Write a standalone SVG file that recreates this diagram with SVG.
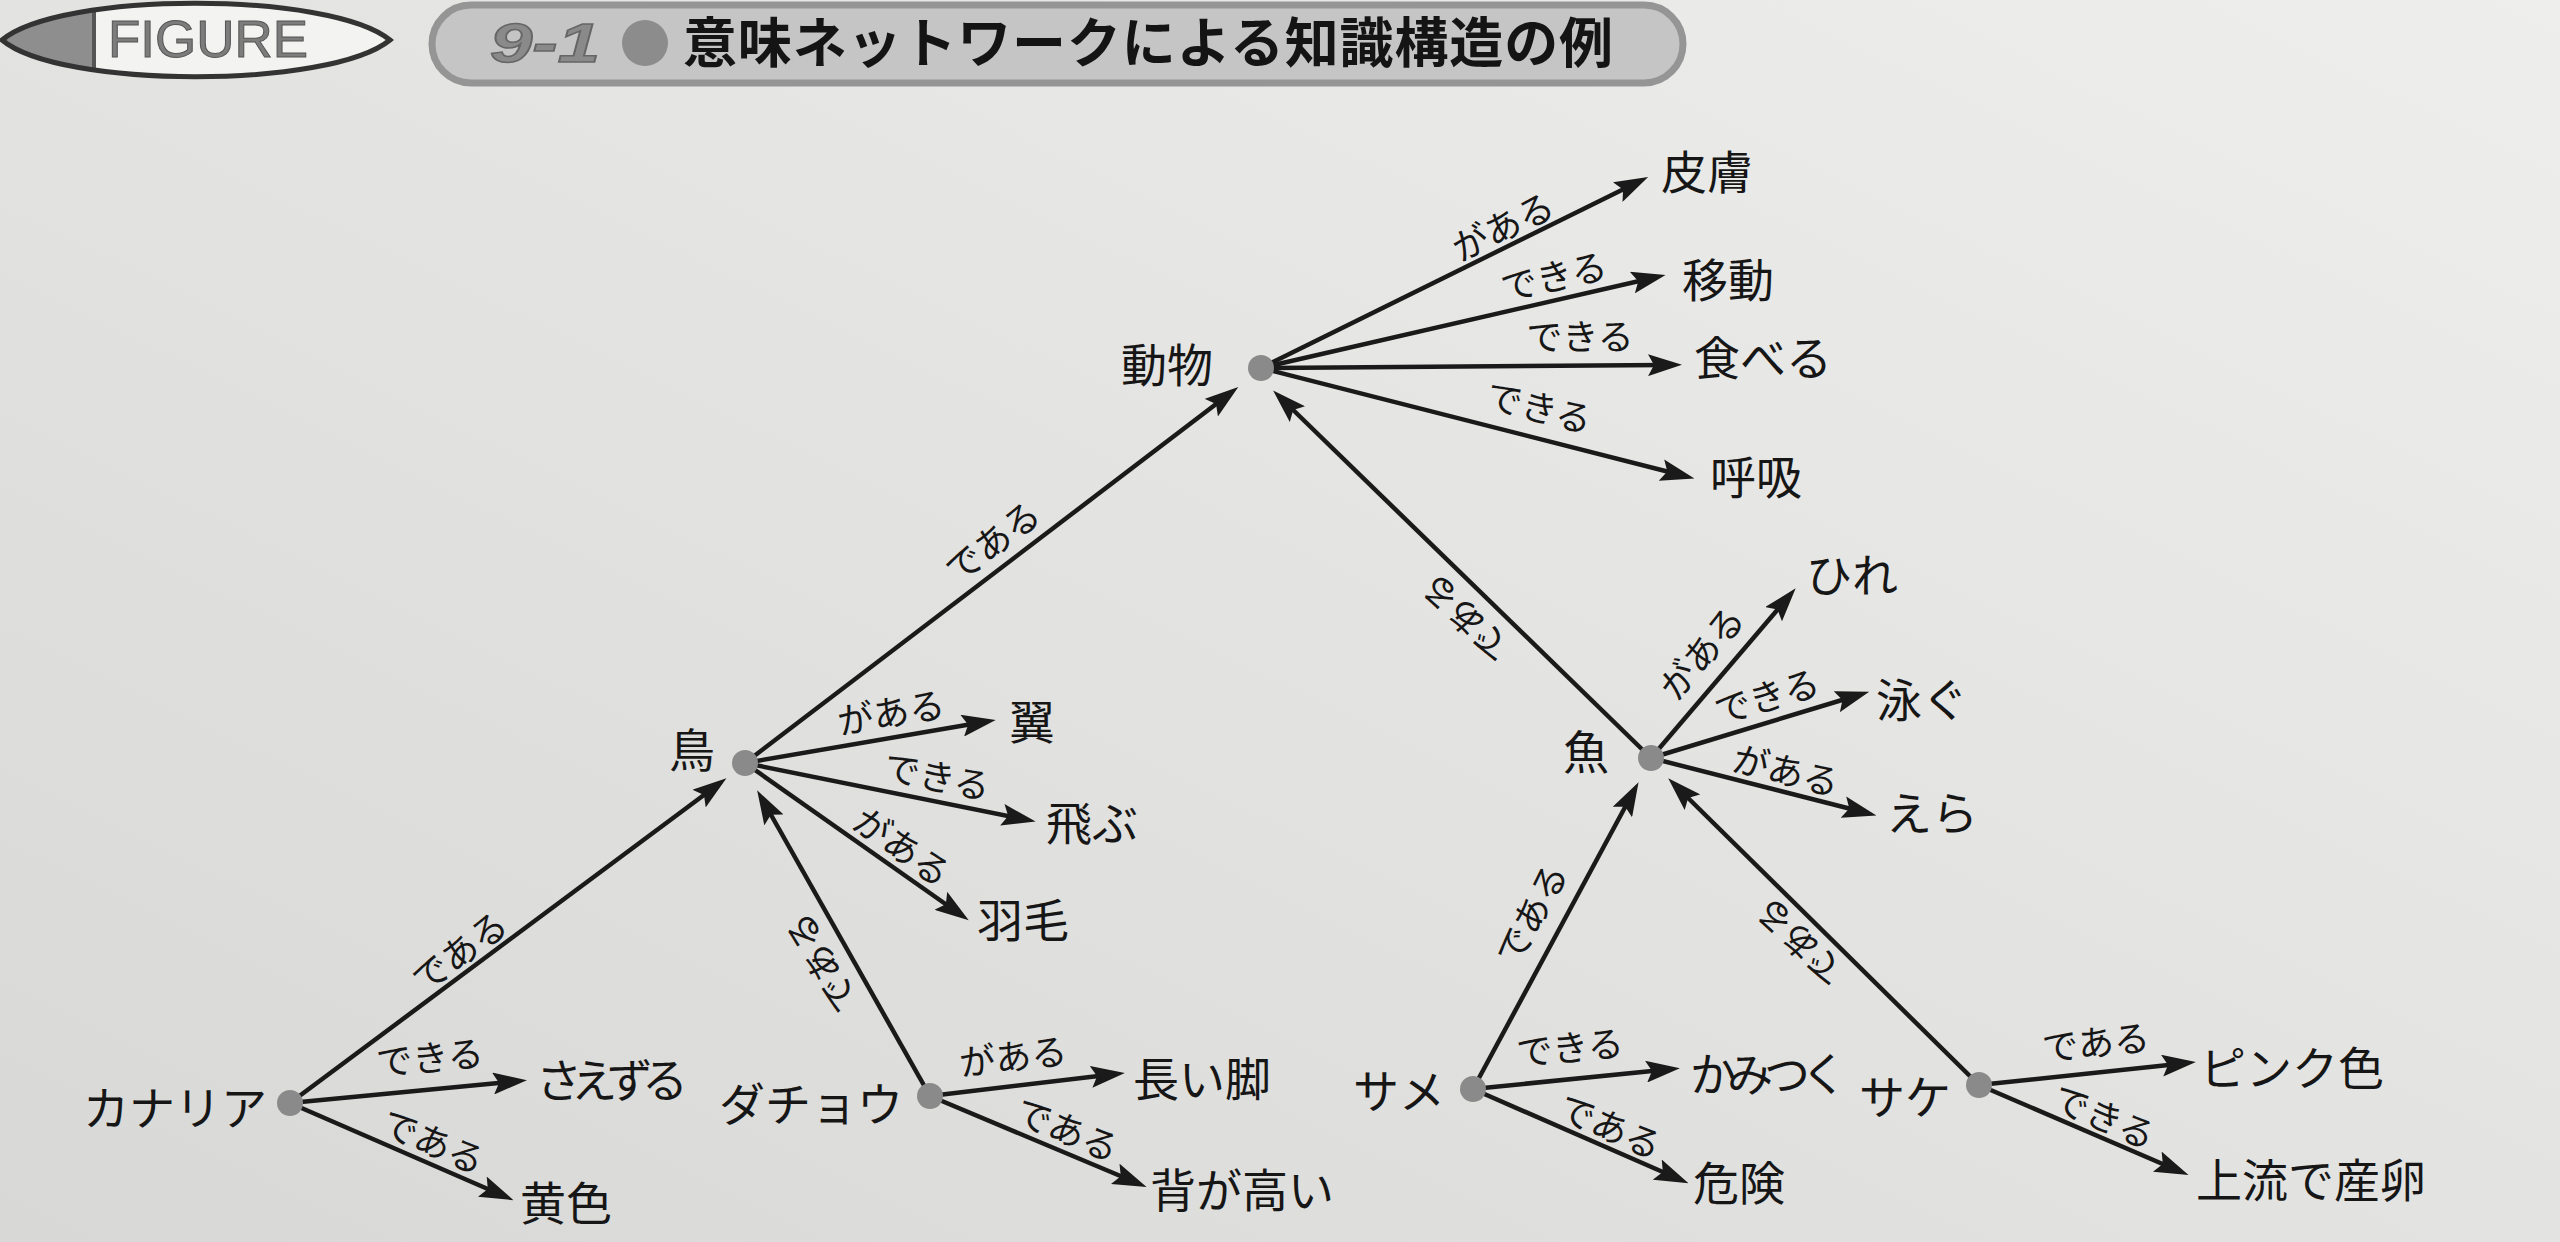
<svg xmlns="http://www.w3.org/2000/svg" width="2560" height="1242" viewBox="0 0 2560 1242">
<defs>
<linearGradient id="bg" x1="0" y1="1" x2="1" y2="0">
<stop offset="0" stop-color="#d8d8d6"/>
<stop offset="1" stop-color="#eeeeec"/>
</linearGradient>
<marker id="ah" markerUnits="userSpaceOnUse" markerWidth="34" markerHeight="22" refX="16" refY="11" orient="auto" viewBox="0 0 34 22">
<path d="M0,0 L34,11 L0,22 L6,11 Z" fill="#1a1a1a"/>
</marker>
<clipPath id="lens"><path d="M2,40 C60,-9 330,-9 390,40 C330,89 60,89 2,40 Z"/></clipPath>
</defs>
<style>
.n{font-family:"Noto Sans CJK JP","Noto Sans",sans-serif;font-size:46px;fill:#161616}
.r{text-anchor:end}
.l{font-family:"Noto Sans CJK JP",sans-serif;font-size:36px;fill:#161616;text-anchor:middle}
.e{stroke:#1a1a1a;stroke-width:4.5;fill:none;marker-end:url(#ah)}
.dot{fill:#8a8a8a}
</style>
<rect width="2560" height="1242" fill="url(#bg)"/>

<g id="header">
<g clip-path="url(#lens)">
<rect x="0" y="0" width="400" height="90" fill="#f3f3f1"/>
<rect x="0" y="0" width="94" height="90" fill="#8e8e8e"/>
<line x1="94" y1="0" x2="94" y2="90" stroke="#555" stroke-width="4"/>
</g>
<path d="M2,40 C60,-9 330,-9 390,40 C330,89 60,89 2,40 Z" fill="none" stroke="#333" stroke-width="5"/>
<text x="108" y="57" font-family="Liberation Sans, Arial, sans-serif" font-size="52" fill="#7c7c7c" stroke="#555" stroke-width="1" textLength="200" lengthAdjust="spacingAndGlyphs">FIGURE</text>
<rect x="432" y="5" width="1251" height="78" rx="39" fill="#c5c5c5" stroke="#959595" stroke-width="7"/>
<text x="490" y="62" font-family="Liberation Sans, Arial, sans-serif" font-size="56" font-style="italic" font-weight="bold" fill="#8a8a8a" stroke="#666" stroke-width="1.5" textLength="110" lengthAdjust="spacingAndGlyphs">9-1</text>
<circle cx="645" cy="43" r="23" fill="#8c8c8c"/>
<text x="683" y="63" font-family="Noto Sans CJK JP, sans-serif" font-size="54" font-weight="bold" fill="#141414" textLength="930">意味ネットワークによる知識構造の例</text>
</g>

<g id="connectors">
<line class="e" x1="1261" y1="368" x2="1632" y2="185"/>
<line class="e" x1="1261" y1="368" x2="1648" y2="279"/>
<line class="e" x1="1261" y1="368" x2="1664" y2="365"/>
<line class="e" x1="1261" y1="368" x2="1677" y2="474"/>
<line class="e" x1="745" y1="763" x2="1224" y2="398"/>
<line class="e" x1="745" y1="763" x2="978" y2="723"/>
<line class="e" x1="745" y1="763" x2="1018" y2="818"/>
<line class="e" x1="745" y1="763" x2="954" y2="910"/>
<line class="e" x1="1651" y1="758" x2="1286" y2="403"/>
<line class="e" x1="1651" y1="758" x2="1784" y2="602"/>
<line class="e" x1="1651" y1="758" x2="1852" y2="697"/>
<line class="e" x1="1651" y1="758" x2="1859" y2="811"/>
<line class="e" x1="290" y1="1103" x2="712" y2="789"/>
<line class="e" x1="290" y1="1103" x2="509" y2="1082"/>
<line class="e" x1="290" y1="1103" x2="497" y2="1193"/>
<line class="e" x1="930" y1="1096" x2="766" y2="806"/>
<line class="e" x1="930" y1="1096" x2="1107" y2="1075"/>
<line class="e" x1="930" y1="1096" x2="1130" y2="1180"/>
<line class="e" x1="1473" y1="1089" x2="1630" y2="798"/>
<line class="e" x1="1473" y1="1089" x2="1662" y2="1070"/>
<line class="e" x1="1473" y1="1089" x2="1672" y2="1176"/>
<line class="e" x1="1979" y1="1085" x2="1681" y2="791"/>
<line class="e" x1="1979" y1="1085" x2="2178" y2="1064"/>
<line class="e" x1="1979" y1="1085" x2="2172" y2="1168"/>

<text class="l" transform="translate(1503,227) rotate(-26.1)" y="13">がある</text>
<text class="l" transform="translate(1554,277) rotate(-12.8)" y="13">できる</text>
<text class="l" transform="translate(1580,337) rotate(-0.4)" y="13">できる</text>
<text class="l" transform="translate(1539,408) rotate(14.3)" y="13">できる</text>
<text class="l" transform="translate(993,542) rotate(-37.3)" y="13">である</text>
<text class="l" transform="translate(891,713) rotate(-9.7)" y="13">がある</text>
<text class="l" transform="translate(937,777) rotate(11.5)" y="13">できる</text>
<text class="l" transform="translate(902,847) rotate(35)" y="13">がある</text>
<text class="l" transform="translate(1466,618) rotate(224.2)" y="13">である</text>
<text class="l" transform="translate(1702,653) rotate(-49.5)" y="13">がある</text>
<text class="l" transform="translate(1767,697) rotate(-16.8)" y="13">できる</text>
<text class="l" transform="translate(1786,771) rotate(14.2)" y="13">がある</text>
<text class="l" transform="translate(460,952) rotate(-36.7)" y="13">である</text>
<text class="l" transform="translate(430,1058) rotate(-5.5)" y="13">できる</text>
<text class="l" transform="translate(433,1142) rotate(23.5)" y="13">である</text>
<text class="l" transform="translate(822,963) rotate(240.5)" y="13">である</text>
<text class="l" transform="translate(1013,1057) rotate(-6.7)" y="13">がある</text>
<text class="l" transform="translate(1067,1130) rotate(22.8)" y="13">である</text>
<text class="l" transform="translate(1532,914) rotate(-61.6)" y="13">である</text>
<text class="l" transform="translate(1570,1048) rotate(-5.8)" y="13">できる</text>
<text class="l" transform="translate(1610,1127) rotate(23.6)" y="13">である</text>
<text class="l" transform="translate(1800,942) rotate(224.6)" y="13">である</text>
<text class="l" transform="translate(2096,1043) rotate(-6)" y="13">である</text>
<text class="l" transform="translate(2104,1117) rotate(23.3)" y="13">できる</text>
</g>

<g id="node-doubutsu"><circle class="dot" cx="1261" cy="368" r="13"/><text class="n r" x="1213" y="382">動物</text></g>
<g id="node-tori"><circle class="dot" cx="745" cy="763" r="13"/><text class="n r" x="715" y="767">鳥</text></g>
<g id="node-sakana"><circle class="dot" cx="1651" cy="758" r="13"/><text class="n r" x="1609" y="769">魚</text></g>
<g id="node-kanaria"><circle class="dot" cx="290" cy="1103" r="13"/><text class="n r" x="267" y="1125">カナリア</text></g>
<g id="node-dachou"><circle class="dot" cx="930" cy="1096" r="13"/><text class="n r" x="903" y="1121">ダチョウ</text></g>
<g id="node-same"><circle class="dot" cx="1473" cy="1089" r="13"/><text class="n r" x="1445" y="1108">サメ</text></g>
<g id="node-sake"><circle class="dot" cx="1979" cy="1085" r="13"/><text class="n r" x="1951" y="1114">サケ</text></g>

<g id="node-hifu"><text class="n" x="1661" y="189">皮膚</text></g>
<g id="node-idou"><text class="n" x="1682" y="297">移動</text></g>
<g id="node-taberu"><text class="n" x="1694" y="375">食べる</text></g>
<g id="node-kokyuu"><text class="n" x="1710" y="494">呼吸</text></g>
<g id="node-tsubasa"><text class="n" x="1009" y="739">翼</text></g>
<g id="node-tobu"><text class="n" x="1046" y="840">飛ぶ</text></g>
<g id="node-umou"><text class="n" x="977" y="937">羽毛</text></g>
<g id="node-hire"><text class="n" x="1806" y="592">ひれ</text></g>
<g id="node-oyogu"><text class="n" x="1876" y="717">泳ぐ</text></g>
<g id="node-era"><text class="n" x="1886" y="830">えら</text></g>
<g id="node-saezuru"><text class="n" x="536" y="1097" textLength="152">さえずる</text></g>
<g id="node-kiiro"><text class="n" x="520" y="1220">黄色</text></g>
<g id="node-nagaiashi"><text class="n" x="1133" y="1096">長い脚</text></g>
<g id="node-segatakai"><text class="n" x="1150" y="1207">背が高い</text></g>
<g id="node-kamitsuku"><text class="n" x="1690" y="1091" textLength="157">かみつく</text></g>
<g id="node-kiken"><text class="n" x="1693" y="1200">危険</text></g>
<g id="node-pinkuiro"><text class="n" x="2200" y="1085">ピンク色</text></g>
<g id="node-jouryuu"><text class="n" x="2196" y="1197">上流で産卵</text></g>
</svg>
